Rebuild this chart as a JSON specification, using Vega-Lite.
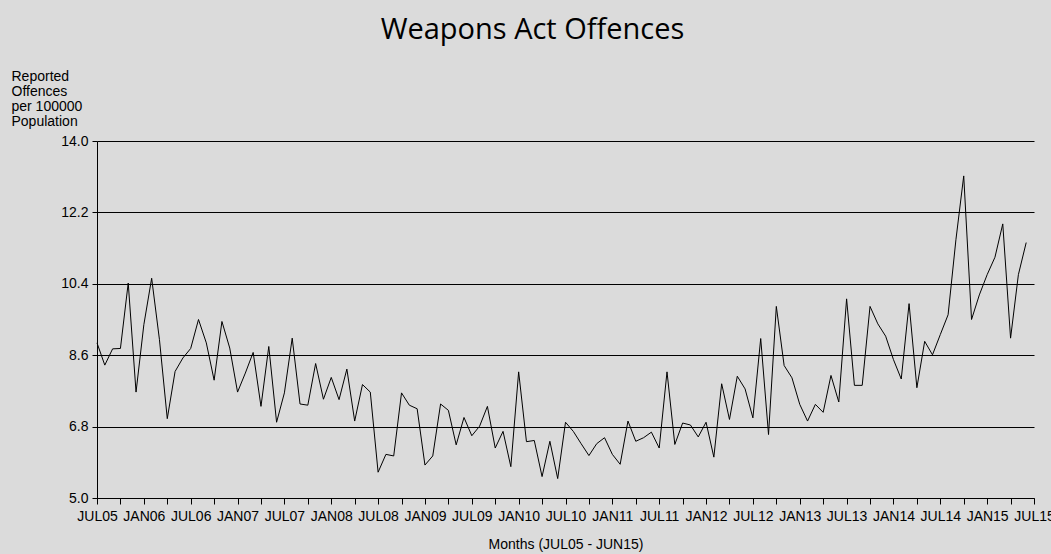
{
  "$schema": "https://vega.github.io/schema/vega-lite/v6.json",
  "width": 937,
  "height": 357,
  "autosize": {"type": "none"},
  "padding": {"left": 97, "top": 141, "right": 17, "bottom": 56},
  "background": "#dbdbdb",
  "title": {
    "text": "Weapons Act Offences",
    "font": "Open Sans",
    "fontSize": 29,
    "fontWeight": "normal",
    "color": "#000000",
    "anchor": "middle",
    "baseline": "alphabetic",
    "dx": -33,
    "offset": 1
  },
  "config": {
    "view": {"stroke": null},
    "axis": {
      "labelFont": "Liberation Sans",
      "labelFontSize": 14,
      "labelColor": "#000000",
      "titleFont": "Liberation Sans",
      "titleFontSize": 14,
      "titleFontWeight": "normal",
      "titleColor": "#000000",
      "domainColor": "#000000",
      "tickColor": "#000000",
      "domainWidth": 1,
      "tickWidth": 1
    }
  },
  "data": {
    "values": [
      {"t": 0, "rate": 8.91}, {"t": 1, "rate": 8.35}, {"t": 2, "rate": 8.76}, {"t": 3, "rate": 8.77},
      {"t": 4, "rate": 10.42}, {"t": 5, "rate": 7.67}, {"t": 6, "rate": 9.37}, {"t": 7, "rate": 10.54},
      {"t": 8, "rate": 8.99}, {"t": 9, "rate": 7.0}, {"t": 10, "rate": 8.19}, {"t": 11, "rate": 8.53},
      {"t": 12, "rate": 8.77}, {"t": 13, "rate": 9.5}, {"t": 14, "rate": 8.91}, {"t": 15, "rate": 7.97},
      {"t": 16, "rate": 9.45}, {"t": 17, "rate": 8.78}, {"t": 18, "rate": 7.67}, {"t": 19, "rate": 8.15},
      {"t": 20, "rate": 8.67}, {"t": 21, "rate": 7.31}, {"t": 22, "rate": 8.82}, {"t": 23, "rate": 6.91},
      {"t": 24, "rate": 7.65}, {"t": 25, "rate": 9.03}, {"t": 26, "rate": 7.37}, {"t": 27, "rate": 7.34},
      {"t": 28, "rate": 8.39}, {"t": 29, "rate": 7.49}, {"t": 30, "rate": 8.04}, {"t": 31, "rate": 7.48},
      {"t": 32, "rate": 8.25}, {"t": 33, "rate": 6.94}, {"t": 34, "rate": 7.86}, {"t": 35, "rate": 7.67},
      {"t": 36, "rate": 5.65}, {"t": 37, "rate": 6.1}, {"t": 38, "rate": 6.06}, {"t": 39, "rate": 7.65},
      {"t": 40, "rate": 7.34}, {"t": 41, "rate": 7.25}, {"t": 42, "rate": 5.83}, {"t": 43, "rate": 6.06},
      {"t": 44, "rate": 7.37}, {"t": 45, "rate": 7.21}, {"t": 46, "rate": 6.34}, {"t": 47, "rate": 7.03},
      {"t": 48, "rate": 6.57}, {"t": 49, "rate": 6.81}, {"t": 50, "rate": 7.31}, {"t": 51, "rate": 6.26},
      {"t": 52, "rate": 6.68}, {"t": 53, "rate": 5.79}, {"t": 54, "rate": 8.18}, {"t": 55, "rate": 6.42},
      {"t": 56, "rate": 6.45}, {"t": 57, "rate": 5.54}, {"t": 58, "rate": 6.43}, {"t": 59, "rate": 5.49},
      {"t": 60, "rate": 6.91}, {"t": 61, "rate": 6.68}, {"t": 62, "rate": 6.37}, {"t": 63, "rate": 6.07},
      {"t": 64, "rate": 6.37}, {"t": 65, "rate": 6.52}, {"t": 66, "rate": 6.1}, {"t": 67, "rate": 5.85},
      {"t": 68, "rate": 6.94}, {"t": 69, "rate": 6.43}, {"t": 70, "rate": 6.52}, {"t": 71, "rate": 6.66},
      {"t": 72, "rate": 6.26}, {"t": 73, "rate": 8.18}, {"t": 74, "rate": 6.35}, {"t": 75, "rate": 6.89},
      {"t": 76, "rate": 6.84}, {"t": 77, "rate": 6.54}, {"t": 78, "rate": 6.91}, {"t": 79, "rate": 6.03},
      {"t": 80, "rate": 7.88}, {"t": 81, "rate": 6.98}, {"t": 82, "rate": 8.07}, {"t": 83, "rate": 7.75},
      {"t": 84, "rate": 7.02}, {"t": 85, "rate": 9.02}, {"t": 86, "rate": 6.6}, {"t": 87, "rate": 9.83},
      {"t": 88, "rate": 8.34}, {"t": 89, "rate": 8.03}, {"t": 90, "rate": 7.36}, {"t": 91, "rate": 6.94},
      {"t": 92, "rate": 7.36}, {"t": 93, "rate": 7.16}, {"t": 94, "rate": 8.09}, {"t": 95, "rate": 7.42},
      {"t": 96, "rate": 10.02}, {"t": 97, "rate": 7.84}, {"t": 98, "rate": 7.84}, {"t": 99, "rate": 9.83},
      {"t": 100, "rate": 9.39}, {"t": 101, "rate": 9.08}, {"t": 102, "rate": 8.49}, {"t": 103, "rate": 8.0},
      {"t": 104, "rate": 9.9}, {"t": 105, "rate": 7.78}, {"t": 106, "rate": 8.95}, {"t": 107, "rate": 8.61},
      {"t": 108, "rate": 9.12}, {"t": 109, "rate": 9.62}, {"t": 110, "rate": 11.51}, {"t": 111, "rate": 13.12},
      {"t": 112, "rate": 9.5}, {"t": 113, "rate": 10.12}, {"t": 114, "rate": 10.63}, {"t": 115, "rate": 11.07},
      {"t": 116, "rate": 11.91}, {"t": 117, "rate": 9.03}, {"t": 118, "rate": 10.63}, {"t": 119, "rate": 11.44}
    ]
  },
  "mark": {"type": "line", "color": "#000000", "strokeWidth": 1},
  "encoding": {
    "x": {
      "field": "t",
      "type": "quantitative",
      "scale": {"domain": [0, 120], "nice": false, "zero": false},
      "axis": {
        "values": [0, 3, 6, 9, 12, 15, 18, 21, 24, 27, 30, 33, 36, 39, 42, 45, 48, 51, 54, 57, 60, 63, 66, 69, 72, 75, 78, 81, 84, 87, 90, 93, 96, 99, 102, 105, 108, 111, 114, 117, 120],
        "labelExpr": "datum.value % 6 == 0 ? ((datum.value % 12 == 0 ? 'JUL' : 'JAN') + (floor((datum.value + 6) / 12) + 5 < 10 ? '0' : '') + (floor((datum.value + 6) / 12) + 5)) : ''",
        "labelOverlap": false,
        "labelFlush": false,
        "labelPadding": 5,
        "tickSize": 6,
        "grid": false,
        "title": "Months (JUL05 - JUN15)",
        "titleBaseline": "alphabetic",
        "titleY": 50
      }
    },
    "y": {
      "field": "rate",
      "type": "quantitative",
      "scale": {"domain": [5, 14], "nice": false, "zero": false},
      "axis": {
        "values": [5, 6.8, 8.6, 10.4, 12.2, 14],
        "format": ".1f",
        "grid": true,
        "gridColor": "#000000",
        "gridOpacity": 1,
        "gridWidth": 1,
        "tickSize": 5,
        "labelPadding": 4,
        "title": ["Reported", "Offences", "per 100000", "Population"],
        "titleAngle": 0,
        "titleAlign": "left",
        "titleBaseline": "alphabetic",
        "titleLineHeight": 15,
        "titleX": -86,
        "titleY": -61
      }
    }
  }
}
